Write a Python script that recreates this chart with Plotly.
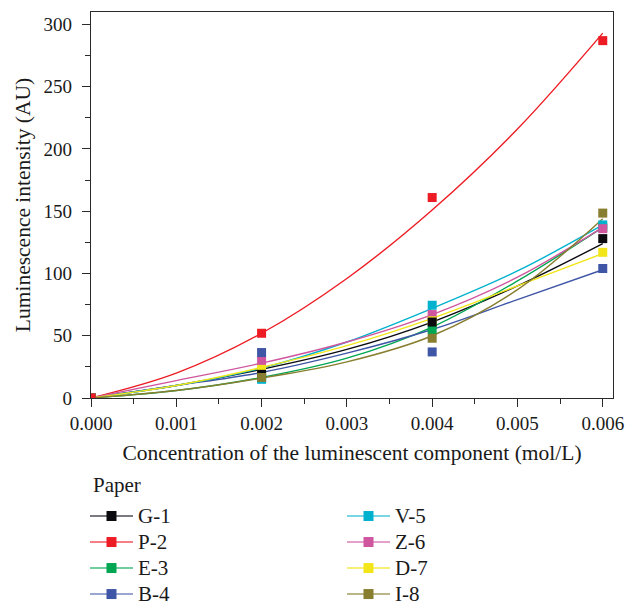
import plotly.graph_objects as go

# ---- data ----
conc = [0.0, 0.002, 0.004, 0.006]
names = ["G-1", "P-2", "E-3", "B-4", "V-5", "Z-6", "D-7", "I-8"]
G1 = [0, 19, 61, 128]
P2 = [0, 52, 161, 287]
E3 = [0, 16, 55, 137]
B4 = [0, 36.5, 37, 104]
V5 = [0, 15, 74.5, 139]
Z6 = [0, 29.5, 67, 136]
D7 = [0, 23, 62, 117]
I8 = [0, 16.5, 48, 148.5]

# fitted curves as drawn in the reference (read at 0.001 steps)
conc_fit = [0.0, 0.001, 0.002, 0.003, 0.004, 0.005, 0.006]
fit_G1 = [0, 10, 23, 39, 61, 90, 124]
fit_P2 = [0, 20, 52, 96, 151, 216, 293]
fit_E3 = [0, 6, 16.5, 32, 57, 94, 137]
fit_B4 = [0, 10, 20.5, 36, 55, 79, 103]
fit_V5 = [0, 10, 24, 45, 72, 102, 139]
fit_Z6 = [0, 14, 28, 45, 67, 97, 137]
fit_D7 = [0, 10, 24.5, 42, 64, 90, 116]
fit_I8 = [0, 6, 16, 29, 50, 87, 144]

x_ticks = [0.0, 0.001, 0.002, 0.003, 0.004, 0.005, 0.006]
y_ticks = [0, 50, 100, 150, 200, 250, 300]
legend_title = "Paper"

points = dict(zip(names, [G1, P2, E3, B4, V5, Z6, D7, I8]))
fits = dict(zip(names, [fit_G1, fit_P2, fit_E3, fit_B4, fit_V5, fit_Z6, fit_D7, fit_I8]))
colors = {
    "G-1": "#0a0a0f", "P-2": "#ed1c24", "E-3": "#00a651", "B-4": "#3f56a6",
    "V-5": "#00b2ce", "Z-6": "#cf559e", "D-7": "#f2e61a", "I-8": "#877e2f",
}
legend_line = {
    "G-1": "rgba(60,60,65,0.9)", "P-2": "rgba(237,28,36,0.75)", "E-3": "rgba(0,166,81,0.75)",
    "B-4": "rgba(63,86,166,0.7)", "V-5": "rgba(0,178,206,0.7)", "Z-6": "rgba(207,85,158,0.75)",
    "D-7": "rgba(242,230,26,0.8)", "I-8": "rgba(135,126,47,0.75)",
}
legend_rank = {"G-1": 1, "V-5": 2, "P-2": 3, "Z-6": 4, "E-3": 5, "D-7": 6, "B-4": 7, "I-8": 8}
draw_order = ["E-3", "V-5", "Z-6", "D-7", "G-1", "B-4", "I-8", "P-2"]

FONT = "Liberation Serif, Times New Roman, serif"
INK = "#1a1a1a"
fig = go.Figure()

# fitted curves
for n in names:
    fig.add_trace(go.Scatter(
        x=conc_fit, y=fits[n], mode="lines", line=dict(color=colors[n], width=1.4, shape="spline"),
        showlegend=False, hoverinfo="skip"))

# data squares
for n in draw_order:
    fig.add_trace(go.Scatter(
        x=conc, y=points[n], mode="markers", showlegend=False,
        marker=dict(symbol="square", size=9, color=colors[n], line=dict(width=0))))

# legend entries
for n in names:
    fig.add_trace(go.Scatter(
        x=[None], y=[None], mode="lines+markers",
        name=f'<span style="font-size:21px">{n}</span>', legendrank=legend_rank[n],
        line=dict(color=legend_line[n], width=1.6),
        marker=dict(symbol="square", size=10, color=colors[n])))

axis_common = dict(
    showline=True, linecolor="#2a2a2a", linewidth=1.4, mirror=True,
    ticks="outside", ticklen=8, tickwidth=1.3, tickcolor="#2a2a2a",
    showgrid=False, zeroline=False,
    tickfont=dict(family=FONT, size=19, color=INK),
)

fig.update_xaxes(
    range=[0, 0.00612], tickvals=x_ticks, ticktext=[f"{v:.3f}" for v in x_ticks],
    minor=dict(ticks="outside", ticklen=5, tickwidth=1.2, tickcolor="#2a2a2a", dtick=0.0005, tick0=0),
    title=dict(text="Concentration of the luminescent component (mol/L)",
               font=dict(family=FONT, size=21.5, color=INK), standoff=11),
    **axis_common)
fig.update_yaxes(
    range=[0, 310], tickvals=y_ticks,
    minor=dict(ticks="outside", ticklen=5, tickwidth=1.2, tickcolor="#2a2a2a", dtick=25, tick0=0),
    ticklabelstandoff=6,
    title=dict(text="Luminescence intensity (AU)",
               font=dict(family=FONT, size=21.5, color=INK), standoff=6),
    **axis_common)

fig.add_annotation(
    text=legend_title, xref="paper", yref="paper", x=0, y=-0.2254,
    xanchor="left", yanchor="middle", xshift=0, showarrow=False,
    font=dict(family=FONT, size=21, color=INK))

fig.update_layout(
    width=627, height=607,
    margin=dict(l=91, r=14, t=12, b=209, autoexpand=False),
    paper_bgcolor="white", plot_bgcolor="white",
    font=dict(family=FONT, size=19, color=INK),
    legend=dict(
        orientation="h", x=-0.0115, xanchor="left", y=-0.2591, yanchor="top",
        entrywidth=199, entrywidthmode="pixels", itemwidth=43,
        font=dict(family=FONT, size=17.7, color=INK),
        bgcolor="rgba(0,0,0,0)", borderwidth=0,
    ),
)

fig.write_html("out.html")
